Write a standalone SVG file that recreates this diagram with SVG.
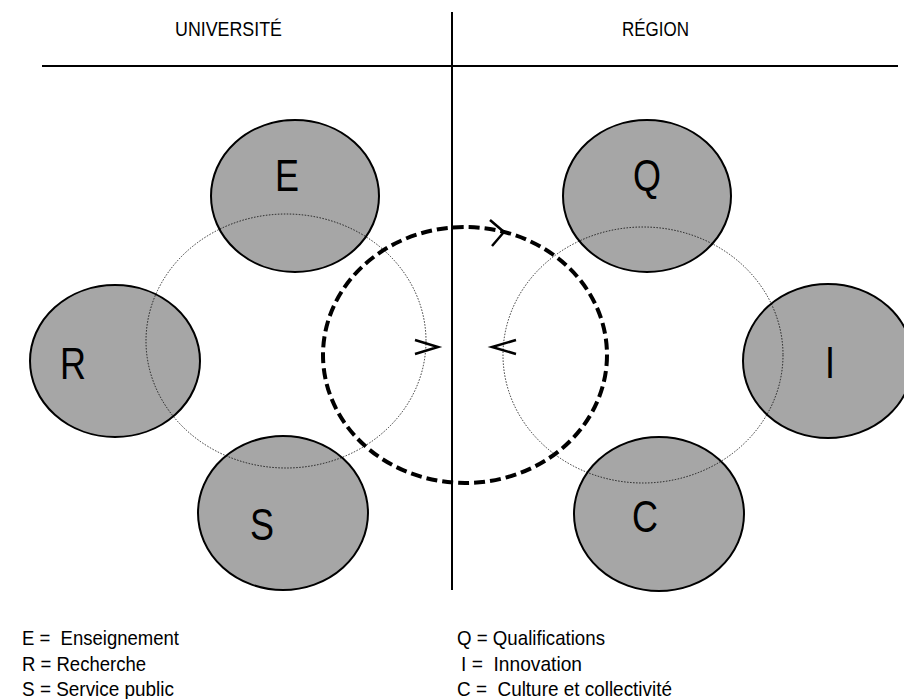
<svg xmlns="http://www.w3.org/2000/svg" width="904" height="699" viewBox="0 0 904 699">
<style>
text{font-family:"Liberation Sans",Arial,sans-serif;fill:#000}
.node{fill:#a6a6a6;stroke:#000;stroke-width:2}
.orbit{fill:none;stroke:#000;stroke-width:0.8;stroke-dasharray:1.5 1.5}
.cycle{fill:none;stroke:#000;stroke-width:4;stroke-dasharray:11 5}
.chev{fill:none;stroke:#000;stroke-width:2.5}
.big{font-size:45px;text-anchor:middle}
.head{font-size:21px}
.leg{font-size:21px}
</style>
<rect width="904" height="699" fill="#fff"/>
<g id="frame">
<line x1="42" y1="66" x2="898" y2="66" stroke="#000" stroke-width="2"/>
<line x1="452" y1="12" x2="452" y2="590" stroke="#000" stroke-width="2"/>
<text class="head" x="175" y="36" textLength="107" lengthAdjust="spacingAndGlyphs">UNIVERSITÉ</text>
<text class="head" x="622" y="36" textLength="67" lengthAdjust="spacingAndGlyphs">RÉGION</text>
</g>
<g id="node-E"><ellipse class="node" cx="295" cy="196" rx="84" ry="76"/><text class="big" x="287" y="191" textLength="24" lengthAdjust="spacingAndGlyphs">E</text></g>
<g id="node-R"><ellipse class="node" cx="115" cy="361" rx="85" ry="76"/><text class="big" x="73" y="379" textLength="26" lengthAdjust="spacingAndGlyphs">R</text></g>
<g id="node-S"><ellipse class="node" cx="283" cy="513" rx="85" ry="77"/><text class="big" x="262" y="540" textLength="24" lengthAdjust="spacingAndGlyphs">S</text></g>
<g id="node-Q"><ellipse class="node" cx="647" cy="196" rx="84" ry="76"/><text class="big" x="647" y="191" textLength="28" lengthAdjust="spacingAndGlyphs">Q</text></g>
<g id="node-I"><ellipse class="node" cx="828" cy="361" rx="85" ry="77"/><text class="big" x="830" y="378" textLength="10" lengthAdjust="spacingAndGlyphs">I</text></g>
<g id="node-C"><ellipse class="node" cx="659" cy="514" rx="85" ry="77"/><text class="big" x="645" y="532" textLength="26" lengthAdjust="spacingAndGlyphs">C</text></g>
<g id="connectors">
<ellipse class="orbit" cx="286" cy="341" rx="140" ry="127"/>
<ellipse class="orbit" cx="643" cy="355" rx="140" ry="128"/>
<ellipse class="cycle" cx="465" cy="355" rx="142" ry="128"/>
<polyline class="chev" points="490,220 504,232 492,246"/>
<polyline class="chev" points="415,340 438,347 415,354"/>
<polyline class="chev" points="516,340 492,347 516,354"/>
</g>
<g id="legend">
<text class="leg" x="22" y="645" xml:space="preserve" textLength="157" lengthAdjust="spacingAndGlyphs">E =  Enseignement</text>
<text class="leg" x="22" y="671" textLength="124" lengthAdjust="spacingAndGlyphs">R = Recherche</text>
<text class="leg" x="22" y="696" textLength="152" lengthAdjust="spacingAndGlyphs">S = Service public</text>
<text class="leg" x="457" y="645" textLength="148" lengthAdjust="spacingAndGlyphs">Q = Qualifications</text>
<text class="leg" x="461" y="671" xml:space="preserve" textLength="121" lengthAdjust="spacingAndGlyphs">I =  Innovation</text>
<text class="leg" x="457" y="696" xml:space="preserve" textLength="215" lengthAdjust="spacingAndGlyphs">C =  Culture et collectivité</text>
</g>
</svg>
